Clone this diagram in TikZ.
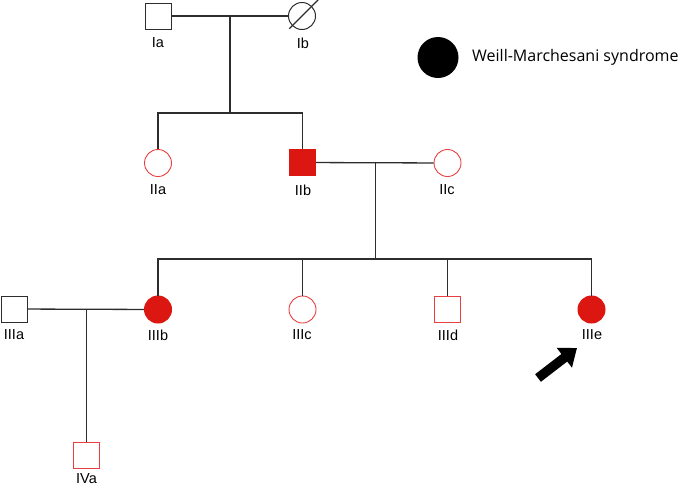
\documentclass[tikz,border=0pt]{standalone}
\usepackage{fontspec}
\setmainfont{Liberation Sans}
\newfontfamily\legendfont{Open Sans}
\usepackage{tikz}
\usetikzlibrary{arrows.meta}

\definecolor{affred}{RGB}{220,22,16}
\definecolor{linered}{RGB}{232,64,64}
\definecolor{linegray}{RGB}{45,45,45}

\begin{document}
\begin{tikzpicture}[x=1pt, y=-1pt,
    male/.style={draw=linegray, rectangle, minimum size=26pt, inner sep=0pt, line width=1pt},
    female/.style={draw=linegray, circle, minimum size=27pt, inner sep=0pt, line width=1pt},
    carrier/.style={draw=linered, line width=0.9pt},
    affected/.style={draw=affred, fill=affred},
    lbl/.style={font=\fontsize{14.5}{16}\selectfont, inner sep=0pt},
    link/.style={draw=linegray, line width=1.3pt}]
    \useasboundingbox (0,0) rectangle (685,488);

    % Generation I
    \node[male] (Ia) at (158,16) {};
    \node[female] (Ib) at (302,16) {};
    \draw[link, shorten <=-4pt, shorten >=-9pt] (Ib.south west) -- (Ib.north east);
    \node[lbl] (Ia-l) at (158,43) {Ia};
    \node[lbl] (Ib-l) at (303,43) {Ib};

    % Generation II
    \node[female, carrier] (IIa) at (158,163) {};
    \node[male, affected] (IIb) at (302.5,162.5) {};
    \node[female, carrier] (IIc) at (447.5,163) {};
    \node[lbl] (IIa-l) at (158,190) {IIa};
    \node[lbl] (IIb-l) at (303,190) {IIb};
    \node[lbl] (IIc-l) at (447,190) {IIc};

    % Generation III
    \node[male] (IIIa) at (14,309) {};
    \node[female, affected] (IIIb) at (158,309.5) {};
    \node[female, carrier] (IIIc) at (302.5,309.5) {};
    \node[male, carrier] (IIId) at (447.5,309) {};
    \node[female, affected] (IIIe) at (591.5,309.5) {};
    \node[lbl] (IIIa-l) at (14,335) {IIIa};
    \node[lbl] (IIIb-l) at (158,335) {IIIb};
    \node[lbl] (IIIc-l) at (302,335) {IIIc};
    \node[lbl] (IIId-l) at (448,335) {IIId};
    \node[lbl] (IIIe-l) at (592,335) {IIIe};

    % Generation IV
    \node[male, carrier] (IVa) at (86.5,455) {};
    \node[lbl] (IVa-l) at (86.5,479) {IVa};

    % marriages and descent
    \coordinate (m1) at (230,16);
    \coordinate (s1) at (230,113);
    \draw[link] (Ia) -- (Ib);
    \draw[link] (m1) -- (s1);
    \draw[link] (IIa.north) |- (s1) -| (IIb.north);

    \coordinate (m2) at (375.7,162.5);
    \coordinate (s2) at (375.7,259);
    \draw[link] (IIb) -- (IIc);
    \draw[link] (m2) -- (s2);
    \draw[link] (IIIb.north) |- (s2) -| (IIIe.north);
    \draw[link] (IIIc.north) -- (IIIc.north |- s2);
    \draw[link] (IIId.north) -- (IIId.north |- s2);

    \coordinate (m3) at (86.5,309);
    \draw[link] (IIIa) -- (IIIb);
    \draw[link] (m3) -- (IVa.north);

    % proband
    \coordinate (arrow-tail) at (538,378);
    \coordinate (arrow-tip) at (577,348);
    \draw[line width=9.5pt, -{Triangle[width=24pt, length=16pt]}] (arrow-tail) -- (arrow-tip);

    % legend
    \node[circle, fill=black, minimum size=41pt, inner sep=0pt] (key) at (438,57.5) {};
    \node[anchor=west, inner sep=0pt, font=\legendfont\fontsize{16}{18}\selectfont] (key-l) at (472,57) {Weill-Marchesani syndrome};
\end{tikzpicture}
\end{document}
